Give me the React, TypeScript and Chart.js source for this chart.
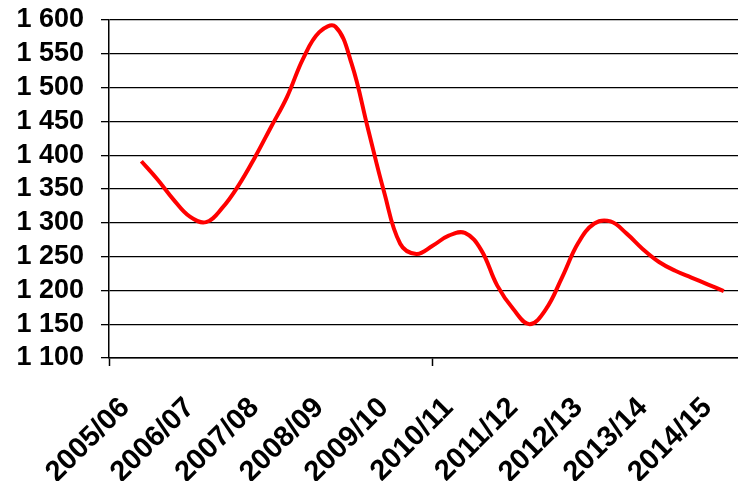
import { useEffect, useRef } from "react";
import { Chart, registerables } from "chart.js";

Chart.register(...registerables);

// Fiscal-year categories on the x axis
const categories = [
  "2005/06",
  "2006/07",
  "2007/08",
  "2008/09",
  "2009/10",
  "2010/11",
  "2011/12",
  "2012/13",
  "2013/14",
  "2014/15",
];

// Series values (4 per fiscal year, from 2005/06 to 2014/15)
const quarterlyValues = [
  1391, 1364, 1334, 1309, 1301, 1322, 1355, 1396, 1441, 1486, 1543, 1582, 1590,
  1535, 1440, 1346, 1269, 1254, 1266, 1281, 1285, 1260, 1207, 1172, 1150, 1172,
  1219, 1270, 1299, 1302, 1284, 1261, 1242, 1229, 1219, 1209, 1199,
];
const pointsPerCategory = 4;

// Y-axis tick values and labels
const yTickValues = [1100, 1150, 1200, 1250, 1300, 1350, 1400, 1450, 1500, 1550, 1600];
const yTickLabels = ["1 100", "1 150", "1 200", "1 250", "1 300", "1 350", "1 400", "1 450", "1 500", "1 550", "1 600"];

// Category boundaries that carry a visible tick mark
const markedBoundaries = [-0.5, 4.5];

const LABEL_SHIFT = 0.25;
const FAMILY = "'Liberation Sans', Arial, sans-serif";

export default function App() {
  const canvasRef = useRef<HTMLCanvasElement | null>(null);

  useEffect(() => {
    if (!canvasRef.current) return;
    const data = quarterlyValues.map((v, i) => ({ x: i / pointsPerCategory, y: v }));
    const chart = new Chart(canvasRef.current, {
      type: "line",
      data: {
        datasets: [
          {
            data,
            borderColor: "#ff0000",
            borderWidth: 4,
            pointRadius: 0,
            tension: 0.4,
            fill: false,
          },
        ],
      },
      options: {
        animation: false,
        responsive: false,
        layout: { padding: { top: 20, left: 0, right: 0, bottom: 0 } },
        plugins: { legend: { display: false }, tooltip: { enabled: false } },
        scales: {
          x: {
            type: "linear",
            min: -0.5,
            max: 9.22,
            afterBuildTicks: (scale: any) => {
              const t: { value: number }[] = [];
              markedBoundaries.forEach((b) => t.push({ value: b }));
              categories.forEach((_, i) => t.push({ value: i - LABEL_SHIFT }));
              t.sort((a, b) => a.value - b.value);
              scale.ticks = t;
            },
            afterFit: (scale: any) => {
              scale.height = 123;
              scale.paddingLeft = 0;
              scale.paddingRight = 0;
            },
            grid: {
              drawOnChartArea: false,
              drawTicks: true,
              tickLength: 8,
              tickWidth: 1.5,
              tickColor: (ctx: any) =>
                ctx.tick && markedBoundaries.includes(ctx.tick.value) ? "#000" : "rgba(0,0,0,0)",
            },
            border: { display: true, color: "#000", width: 1.5 },
            ticks: {
              autoSkip: false,
              minRotation: 45,
              maxRotation: 45,
              padding: 25,
              color: "#000",
              font: { family: FAMILY, size: 29, weight: "bold" },
              callback: (value: any) => {
                const v = Number(value);
                if (markedBoundaries.includes(v)) return "";
                const idx = Math.round(v + LABEL_SHIFT);
                return categories[idx] ?? "";
              },
            },
          },
          y: {
            type: "linear",
            min: 1100,
            max: 1600,
            afterBuildTicks: (scale: any) => {
              scale.ticks = yTickValues.map((v) => ({ value: v }));
            },
            afterFit: (scale: any) => {
              scale.width = 109;
              scale.paddingTop = 0;
              scale.paddingBottom = 0;
            },
            grid: {
              color: "#000",
              lineWidth: 1.3,
              drawTicks: true,
              tickLength: 8,
              tickColor: "#000",
            },
            border: { display: true, color: "#000", width: 1.5 },
            ticks: {
              autoSkip: false,
              padding: 17,
              color: "#000",
              font: { family: FAMILY, size: 27, weight: "bold" },
              callback: (value: any) => {
                const idx = yTickValues.indexOf(Number(value));
                return idx >= 0 ? yTickLabels[idx] : "";
              },
            },
          },
        },
      },
    });
    return () => chart.destroy();
  }, []);

  return (
    <div style={{ position: "fixed", left: 0, top: 0, width: 738, height: 481, background: "#fff" }}>
      <canvas ref={canvasRef} width={738} height={481} style={{ display: "block" }} />
    </div>
  );
}
